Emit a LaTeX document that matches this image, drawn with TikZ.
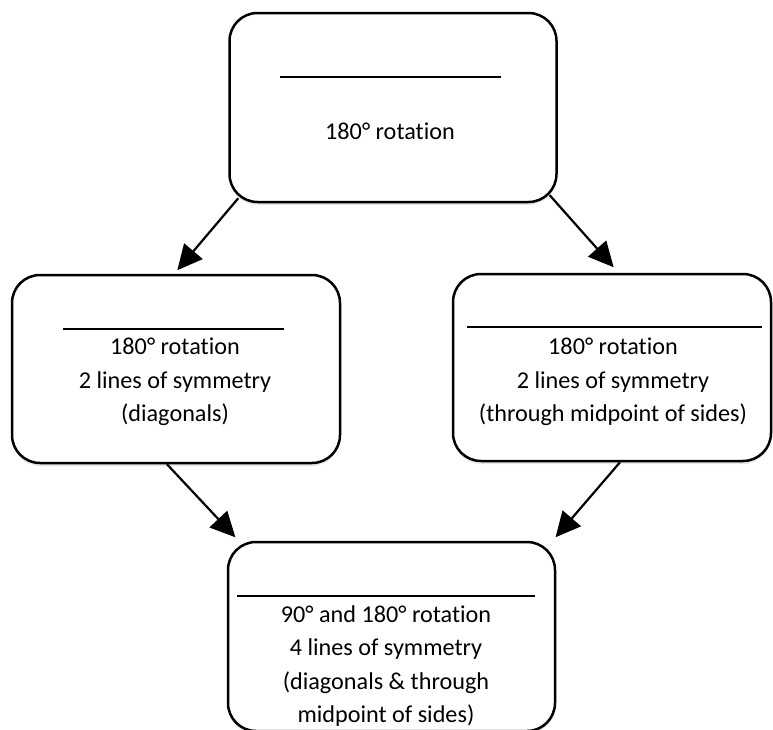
\documentclass[tikz,border=0pt]{standalone}
\usepackage{fontspec}
\setmainfont[Ligatures=NoCommon]{Carlito}
\usetikzlibrary{arrows.meta,shadows}
\tikzset{
  box/.style={draw, line width=2.5pt, rounded corners=28pt, fill=white,
    drop shadow={shadow xshift=0pt, shadow yshift=-3pt, opacity=0.18}},
  label/.style={align=center, font=\fontsize{24.2}{33.5}\selectfont},
  bar/.style={line width=2.2pt},
  arrow/.style={-{Triangle[length=25pt,width=24pt]}, line width=2.2pt, shorten >=2pt}
}
\begin{document}
\begin{tikzpicture}[x=1pt, y=-1pt, line join=round]
  \useasboundingbox (0,0) rectangle (773,729);
  % Kästen
  \node[box, minimum width=327pt, minimum height=189pt] (top) at (393,107.5) {};
  \node[box, minimum width=328pt, minimum height=188pt] (left) at (176,369) {};
  \node[box, minimum width=318pt, minimum height=187pt] (right) at (612,367.5) {};
  \node[box, minimum width=327pt, minimum height=189pt] (bottom) at (391.5,636.5) {};
  % Striche
  \draw[bar] (280,77) -- (501,77);
  \draw[bar] (63,329) -- (284,329);
  \draw[bar] (467,327) -- (762,327);
  \draw[bar] (237,596) -- (535,596);
  % Texte
  \node[label] (ttop) at (390,131) {180° rotation};
  \node[label] (tleft) at (175,382) {180° rotation\\2 lines of symmetry\\(diagonals)};
  \node[label] (tright) at (613,382) {180° rotation\\2 lines of symmetry\\(through midpoint of sides)};
  \node[label] (tbottom) at (386,666) {90° and 180° rotation\\4 lines of symmetry\\(diagonals \& through\\midpoint of sides)};
  % Pfeile
  \draw[arrow] ([xshift=10pt,yshift=5pt]top.south west) -- ([yshift=2pt]left.north);
  \draw[arrow] ([xshift=-8pt,yshift=8pt]top.south east) -- ([xshift=3pt,yshift=4pt]right.north);
  \draw[arrow] ([xshift=-9pt]left.south) -- ([xshift=10pt,yshift=2pt]bottom.north west);
  \draw[arrow] ([xshift=8pt]right.south) -- ([xshift=-2pt,yshift=2pt]bottom.north east);
\end{tikzpicture}
\end{document}
